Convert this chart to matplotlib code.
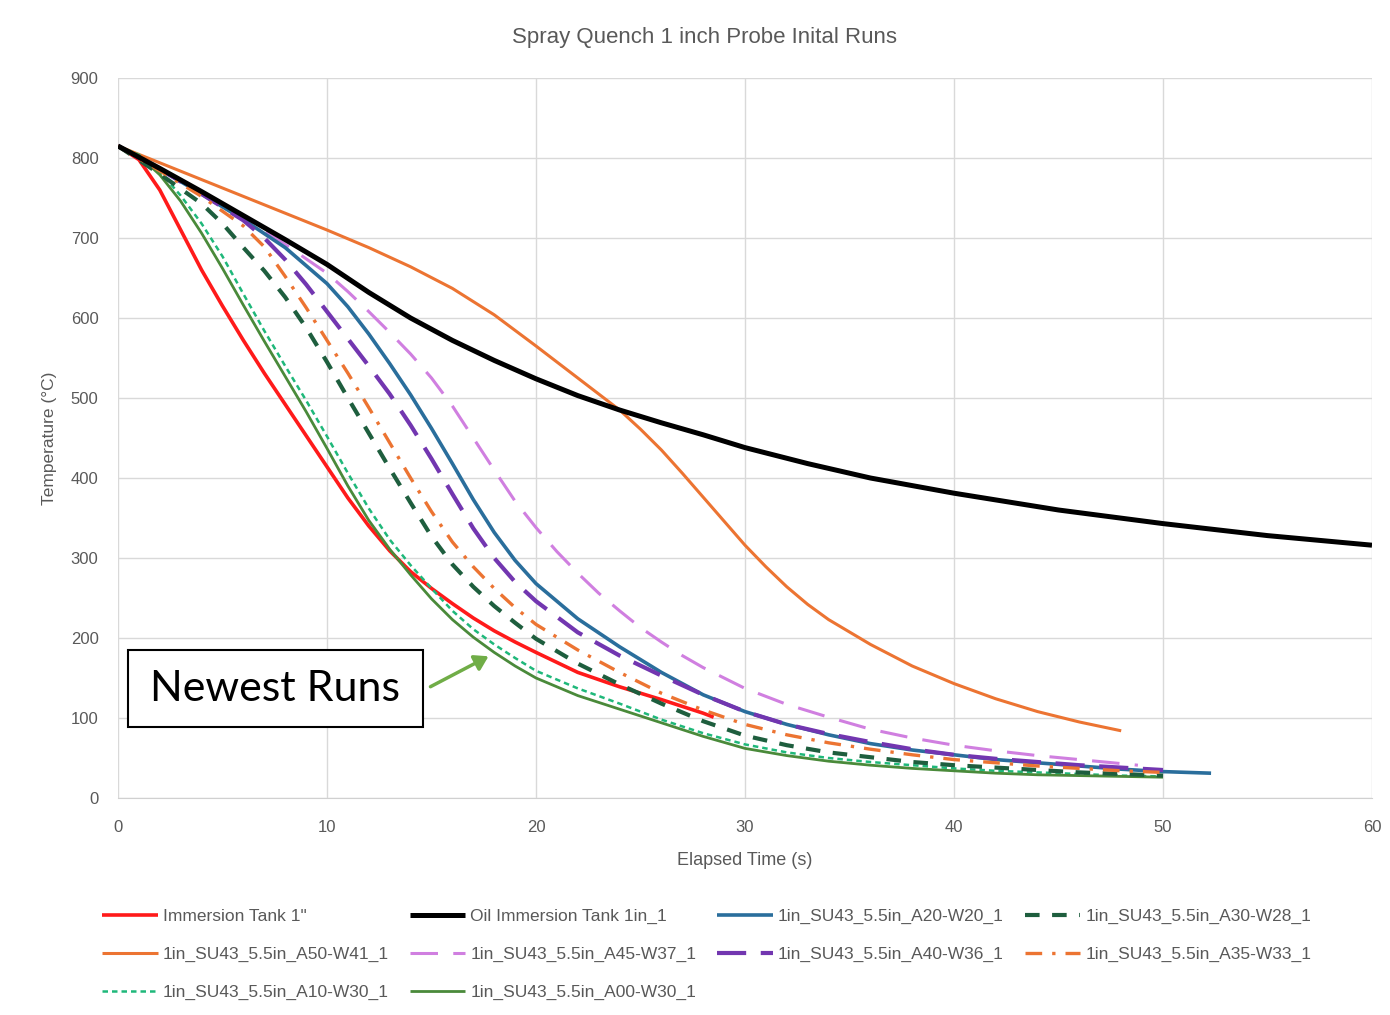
import numpy as np
import matplotlib
matplotlib.use('Agg')
import matplotlib.pyplot as plt
from matplotlib.patches import Rectangle, FancyArrowPatch

plt.rcParams['font.family'] = ['Liberation Sans', 'DejaVu Sans']

# === DATA ===
t_red = [0, 1, 2, 3, 4, 5, 6, 7, 8, 9, 10, 11, 12, 13, 14, 15, 16, 17, 18, 19, 20, 22, 24, 26, 28, 28.5]
T_red = [815, 798, 760, 710, 660, 615, 572, 531, 492, 453, 414, 375, 340, 309, 283, 262, 243, 225, 209, 195, 182, 157, 139, 123, 106, 101]

t_oil = [0, 2, 4, 6, 8, 10, 12, 14, 16, 18, 20, 22, 24, 26, 28, 30, 33, 36, 40, 45, 50, 55, 60]
T_oil = [815, 787, 758, 728, 698, 667, 632, 600, 572, 547, 524, 503, 485, 469, 454, 438, 418, 400, 381, 360, 343, 328, 316]

t_a20 = [0, 2, 4, 6, 8, 10, 11, 12, 13, 14, 15, 16, 17, 18, 19, 20, 22, 24, 26, 28, 30, 32, 34, 36, 38, 40, 42, 44, 46, 48, 50, 52.3]
T_a20 = [815, 786, 755, 723, 688, 643, 614, 580, 543, 504, 462, 418, 373, 332, 297, 268, 224, 189, 157, 129, 108, 92, 79, 68, 60, 54, 48, 44, 40, 36, 33, 31]

t_a30 = [0, 2, 4, 5, 6, 7, 8, 9, 10, 11, 12, 13, 14, 15, 16, 17, 18, 19, 20, 22, 24, 26, 28, 30, 32, 34, 36, 38, 40, 42, 44, 46, 48, 50]
T_a30 = [815, 780, 743, 718, 688, 659, 626, 588, 545, 500, 456, 412, 369, 327, 292, 264, 240, 219, 199, 168, 142, 118, 96, 78, 66, 57, 51, 45, 41, 38, 35, 32, 30, 28]

t_a50 = [0, 2, 4, 6, 8, 10, 12, 14, 16, 18, 20, 22, 24, 25, 26, 27, 28, 29, 30, 31, 32, 33, 34, 36, 38, 40, 42, 44, 46, 48]
T_a50 = [815, 794, 773, 752, 731, 710, 688, 664, 637, 604, 565, 525, 485, 461, 435, 406, 376, 346, 316, 289, 264, 242, 223, 192, 165, 143, 124, 108, 95, 84]

t_a45 = [0, 2, 4, 6, 8, 10, 11, 12, 13, 14, 15, 16, 17, 18, 19, 20, 21, 22, 23, 24, 25, 26, 27, 28, 30, 32, 34, 36, 38, 40, 42, 44, 46, 48, 48.8]
T_a45 = [815, 787, 757, 727, 692, 656, 633, 608, 582, 555, 525, 490, 450, 410, 371, 338, 308, 281, 256, 234, 213, 195, 178, 163, 137, 117, 101, 86, 75, 66, 59, 53, 48, 43, 41]

t_a40 = [0, 2, 4, 6, 7, 8, 9, 10, 11, 12, 13, 14, 15, 16, 17, 18, 19, 20, 22, 24, 26, 28, 30, 32, 34, 36, 38, 40, 42, 44, 46, 48, 50]
T_a40 = [815, 786, 755, 722, 700, 673, 642, 608, 574, 540, 505, 466, 424, 380, 337, 300, 270, 246, 207, 178, 153, 129, 108, 92, 80, 70, 61, 54, 49, 45, 41, 38, 35]

t_a35 = [0, 2, 4, 6, 7, 8, 9, 10, 11, 12, 13, 14, 15, 16, 17, 18, 19, 20, 22, 24, 26, 28, 30, 32, 34, 36, 38, 40, 42, 44, 46, 48, 50]
T_a35 = [815, 784, 752, 715, 689, 652, 613, 572, 531, 488, 444, 400, 358, 320, 289, 262, 238, 217, 185, 157, 131, 110, 92, 79, 69, 61, 54, 48, 44, 40, 37, 34, 32]

t_a10 = [0, 1, 2, 3, 4, 5, 6, 7, 8, 9, 10, 11, 12, 13, 14, 15, 16, 17, 18, 19, 20, 22, 24, 26, 28, 30, 32, 34, 36, 38, 40, 42, 44, 46, 48, 50]
T_a10 = [815, 804, 783, 753, 718, 677, 630, 584, 540, 497, 452, 406, 362, 323, 291, 262, 234, 211, 192, 175, 159, 137, 118, 98, 81, 67, 57, 50, 45, 41, 37, 34, 32, 30, 28, 27]

t_a00 = [0, 1, 2, 3, 4, 5, 6, 7, 8, 9, 10, 11, 12, 13, 14, 15, 16, 17, 18, 19, 20, 22, 24, 26, 28, 30, 32, 34, 36, 38, 40, 42, 44, 46, 48, 50]
T_a00 = [815, 803, 779, 746, 706, 662, 616, 571, 527, 483, 437, 390, 347, 311, 279, 249, 223, 201, 182, 165, 150, 128, 111, 94, 77, 62, 53, 46, 41, 37, 34, 31, 29, 28, 27, 26]

x_ticks = [0, 10, 20, 30, 40, 50, 60]
y_ticks = [0, 100, 200, 300, 400, 500, 600, 700, 800, 900]

# === PLOT ===
W, H = 1390, 1015
fig = plt.figure(figsize=(W / 100, H / 100), dpi=100)
ax = fig.add_axes([118 / W, 1 - 798 / H, (1372 - 118) / W, (798 - 78) / H])

gray = '#595959'
# order chosen so the 4-column legend reads row by row like the original
series = [
    (t_red, T_red, 'Immersion Tank 1"', dict(color='#FF1A1A', lw=2.6, ls='-')),
    (t_a50, T_a50, '1in_SU43_5.5in_A50-W41_1', dict(color='#EC7432', lw=2.2, ls='-')),
    (t_a10, T_a10, '1in_SU43_5.5in_A10-W30_1', dict(color='#1FB87A', lw=1.8, ls=(0, (2.2, 1.6)))),
    (t_oil, T_oil, 'Oil Immersion Tank 1in_1', dict(color='#000000', lw=3.6, ls='-')),
    (t_a45, T_a45, '1in_SU43_5.5in_A45-W37_1', dict(color='#D07FE0', lw=2.2, ls=(0, (9, 5)))),
    (t_a00, T_a00, '1in_SU43_5.5in_A00-W30_1', dict(color='#4A8A3A', lw=2.0, ls='-')),
    (t_a20, T_a20, '1in_SU43_5.5in_A20-W20_1', dict(color='#2A6E9C', lw=2.6, ls='-')),
    (t_a40, T_a40, '1in_SU43_5.5in_A40-W36_1', dict(color='#7236B0', lw=3.0, ls=(0, (7, 3.5)))),
    (t_a30, T_a30, '1in_SU43_5.5in_A30-W28_1', dict(color='#1E5E3E', lw=3.0, ls=(0, (3.5, 3)))),
    (t_a35, T_a35, '1in_SU43_5.5in_A35-W33_1', dict(color='#EC7432', lw=2.4, ls=(0, (5, 3, 1, 3)))),
]

for t, T, label, st in series:
    z = 5 if label.startswith('Oil') else 3
    ax.plot(t, T, label=label, zorder=z, solid_capstyle='butt', **st)

ax.set_xlim(0, 60)
ax.set_ylim(0, 900)
ax.set_xticks(x_ticks)
ax.set_yticks(y_ticks)
ax.grid(True, color='#D9D9D9', lw=1.0)
ax.set_axisbelow(True)
for s in ['top', 'right', 'left']:
    ax.spines[s].set_visible(False)
ax.spines['bottom'].set_color('#D0D0D0')
ax.tick_params(length=0, labelsize=12, labelcolor=gray)
ax.tick_params(axis='x', pad=16)
ax.tick_params(axis='y', pad=14)
ax.set_xlabel('Elapsed Time (s)', fontsize=13, color=gray, labelpad=12)
ax.set_ylabel('Temperature (°C)', fontsize=12.5, color=gray, labelpad=10)

fig.text(705 / W, 1 - 37 / H, 'Spray Quench 1 inch Probe Inital Runs',
         ha='center', va='center', fontsize=16, color=gray)

leg = fig.legend(loc='upper left', bbox_to_anchor=(95 / W, 1 - 902 / H), ncol=4,
                 frameon=False, fontsize=12.5, handlelength=3.2, handletextpad=0.3,
                 columnspacing=1.2, labelspacing=1.3, borderaxespad=0)
for txt in leg.get_texts():
    txt.set_color(gray)

# annotation box
fig.patches.append(Rectangle((128 / W, 1 - 727 / H), (423 - 128) / W, (727 - 650) / H,
                             transform=fig.transFigure, facecolor='white',
                             edgecolor='black', lw=1.5, zorder=10))
fig.text(275 / W, 1 - 689 / H, 'Newest Runs', ha='center', va='center',
         fontsize=31, color='black', family=['Lato', 'DejaVu Sans'], zorder=11)
fig.add_artist(FancyArrowPatch(
    (428 / W, 1 - 688 / H), (491 / W, 1 - 655 / H), transform=fig.transFigure,
    arrowstyle='-|>,head_length=8,head_width=5', color='#70AD47', lw=2.5, zorder=11))

fig.savefig('out.png', dpi=100)
